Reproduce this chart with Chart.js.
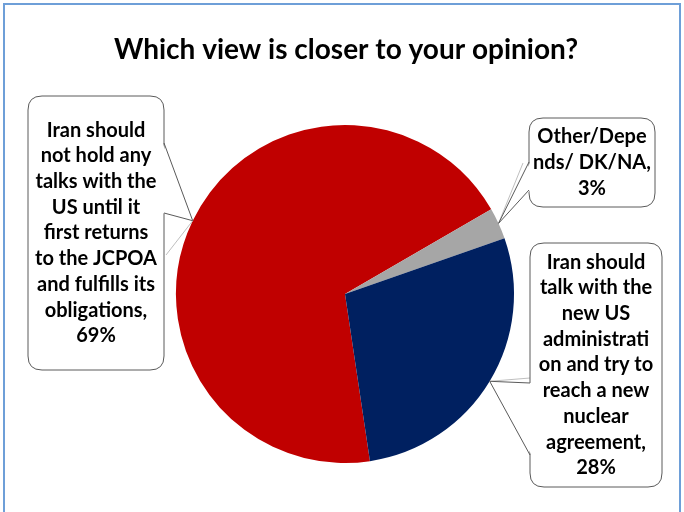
<!DOCTYPE html>
<html>
<head>
<meta charset="utf-8">
<script src="https://cdn.jsdelivr.net/npm/chart.js@4/dist/chart.umd.min.js"></script>
<style>
  html, body { margin: 0; padding: 0; background: #ffffff; }
  #wrap { position: relative; width: 684px; height: 512px; }
  canvas { display: block; }
</style>
</head>
<body>
<div id="wrap"><canvas id="c" width="684" height="512"></canvas></div>
<script>
// ---- data ----
const chartTitle = 'Which view is closer to your opinion?';
const categories = [
  'Iran should not hold any talks with the US until it first returns to the JCPOA and fulfills its obligations',
  'Other/Depends/ DK/NA',
  'Iran should talk with the new US administration and try to reach a new nuclear agreement'
];
// label lines as they wrap inside each callout (value line appended from values)
const labelLines = [
  ['Iran should', 'not hold any', 'talks with the', 'US until it', 'first returns', 'to the JCPOA', 'and fulfills its', 'obligations,'],
  ['Other/Depe', 'nds/ DK/NA,'],
  ['Iran should', 'talk with the', 'new US', 'administrati', 'on and try to', 'reach a new', 'nuclear', 'agreement,']
];
const values = [69, 3, 28];
const colors = ['#C00000', '#A6A6A6', '#002060'];

// ---- callout layout (annotation boxes) ----
const boxes = [
  { x: 28, y: 96, w: 136, h: 274, side: 'right', b1: 143, b2: 213, leadTo: [166, 255] },
  { x: 529, y: 118, w: 126, h: 89, side: 'left', b1: 162, b2: 190, leadTo: [523, 163] },
  { x: 530, y: 243, w: 132, h: 244, side: 'left', b1: 383, b2: 455, leadTo: [530, 378] }
];

function roundRect(ctx, x, y, w, h, r) {
  ctx.beginPath();
  ctx.moveTo(x + r, y);
  ctx.lineTo(x + w - r, y);
  ctx.quadraticCurveTo(x + w, y, x + w, y + r);
  ctx.lineTo(x + w, y + h - r);
  ctx.quadraticCurveTo(x + w, y + h, x + w - r, y + h);
  ctx.lineTo(x + r, y + h);
  ctx.quadraticCurveTo(x, y + h, x, y + h - r);
  ctx.lineTo(x, y + r);
  ctx.quadraticCurveTo(x, y, x + r, y);
  ctx.closePath();
}

const decorPlugin = {
  id: 'decor',
  beforeDraw(chart) {
    const ctx = chart.ctx;
    ctx.save();
    ctx.fillStyle = '#ffffff';
    ctx.fillRect(0, 0, chart.width, chart.height);
    // outer frame
    ctx.strokeStyle = '#6E9FD8';
    ctx.lineWidth = 2;
    ctx.beginPath();
    ctx.moveTo(4, chart.height + 2);
    ctx.lineTo(4, 4);
    ctx.lineTo(680, 4);
    ctx.lineTo(680, chart.height + 2);
    ctx.stroke();
    // title
    ctx.fillStyle = '#000000';
    ctx.font = 'bold 28px Lato, "Open Sans", sans-serif';
    ctx.textAlign = 'center';
    ctx.textBaseline = 'middle';
    ctx.fillText(chartTitle, 346, 50);
    ctx.restore();
  },
  afterDatasetsDraw(chart) {
    const ctx = chart.ctx;
    const meta = chart.getDatasetMeta(0);
    ctx.save();
    meta.data.forEach((arc, i) => {
      const b = boxes[i];
      const p = arc.getProps(['x', 'y', 'startAngle', 'endAngle', 'outerRadius'], true);
      const mid = (p.startAngle + p.endAngle) / 2;
      const tx = p.x + Math.cos(mid) * p.outerRadius;
      const ty = p.y + Math.sin(mid) * p.outerRadius;
      // leader line (light)
      ctx.strokeStyle = '#BFBFBF';
      ctx.lineWidth = 1;
      ctx.beginPath();
      ctx.moveTo(tx, ty);
      ctx.lineTo(b.leadTo[0], b.leadTo[1]);
      ctx.stroke();
      // box
      roundRect(ctx, b.x, b.y, b.w, b.h, 14);
      ctx.fillStyle = '#ffffff';
      ctx.fill();
      ctx.strokeStyle = '#5A5A5A';
      ctx.lineWidth = 1;
      ctx.stroke();
      // wedge
      const ex = b.side === 'right' ? b.x + b.w : b.x;
      const inset = b.side === 'right' ? -1.5 : 1.5;
      ctx.beginPath();
      ctx.moveTo(ex + inset, b.b1);
      ctx.lineTo(tx, ty);
      ctx.lineTo(ex + inset, b.b2);
      ctx.closePath();
      ctx.fillStyle = '#ffffff';
      ctx.fill();
      ctx.beginPath();
      ctx.moveTo(ex, b.b1);
      ctx.lineTo(tx, ty);
      ctx.lineTo(ex, b.b2);
      ctx.strokeStyle = '#5A5A5A';
      ctx.stroke();
      // text
      const lines = labelLines[i].concat([values[i] + '%']);
      const lh = 25.7;
      const cx = b.x + b.w / 2;
      const cy = b.y + b.h / 2;
      ctx.fillStyle = '#000000';
      ctx.font = 'bold 20px Lato, "Open Sans", sans-serif';
      ctx.textAlign = 'center';
      ctx.textBaseline = 'middle';
      const y0 = cy - (lines.length - 1) * lh / 2;
      lines.forEach((t, k) => ctx.fillText(t, cx, y0 + k * lh));
    });
    ctx.restore();
  }
};

new Chart(document.getElementById('c'), {
  type: 'pie',
  data: {
    labels: categories,
    datasets: [{
      data: values,
      backgroundColor: colors,
      borderWidth: 0
    }]
  },
  options: {
    responsive: false,
    animation: false,
    rotation: 171.5,
    layout: { padding: { top: 125, bottom: 49, left: 176, right: 170 } },
    plugins: {
      legend: { display: false },
      title: { display: false },
      tooltip: { enabled: false }
    }
  },
  plugins: [decorPlugin]
});
</script>
</body>
</html>
